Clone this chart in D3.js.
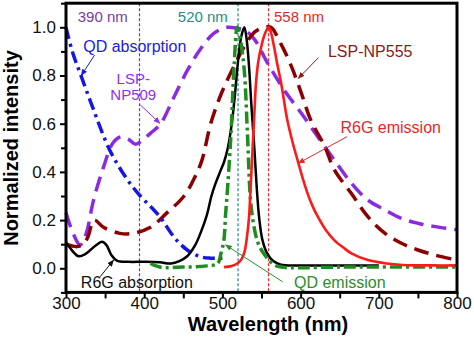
<!DOCTYPE html>
<html>
<head>
<meta charset="utf-8">
<script src="https://cdn.jsdelivr.net/npm/d3@7"></script>
<style>
  body { margin: 0; background: #fff; }
  svg { display: block; font-family: "Liberation Sans", Arial, sans-serif; }
</style>
</head>
<body>
<svg id="chart" width="474" height="339"></svg>
<script>
// data: [wavelength nm, normalized intensity]
const lspNP509 = [[300,0.23],[309,0.146],[318,0.097],[326,0.146],[335,0.28],[348,0.42],[360,0.52],[370,0.545],[380,0.535],[389,0.515],[397,0.53],[408,0.56],[421,0.60],[438,0.71],[455,0.82],[472,0.91],[489,0.975],[506,1.0],[520,0.995],[528,0.99],[541,0.95],[558,0.85],[579,0.74],[601,0.643],[622,0.546],[643,0.45],[665,0.353],[686,0.283],[708,0.242],[729,0.207],[750,0.187],[772,0.173],[800,0.16]];
const lspNP555 = [[300,0.10],[314,0.09],[322,0.10],[328,0.13],[336,0.20],[348,0.17],[369,0.145],[386,0.145],[408,0.17],[429,0.23],[451,0.30],[465,0.38],[474,0.45],[485,0.6],[498,0.72],[515,0.84],[528,0.92],[541,0.98],[554,1.0],[562,1.0],[575,0.93],[588,0.84],[601,0.726],[613,0.615],[631,0.505],[643,0.41],[665,0.31],[686,0.214],[708,0.145],[729,0.104],[750,0.076],[772,0.055],[800,0.034]];
const qdAbs = [[300,1.0],[308,0.9],[318,0.81],[335,0.66],[356,0.49],[378,0.37],[395,0.30],[410,0.25],[421,0.21],[438,0.13],[455,0.076],[472,0.048],[485,0.042],[500,0.042]];
const r6gAbs = [[300,0.11],[305,0.085],[316,0.05],[325,0.06],[338,0.095],[346,0.11],[352,0.095],[358,0.055],[365,0.032],[380,0.027],[400,0.027],[420,0.025],[434,0.02],[445,0.03],[455,0.05],[465,0.095],[472,0.146],[480,0.22],[486,0.3],[491,0.35],[497,0.4],[502,0.44],[507,0.5],[512,0.6],[516,0.72],[520,0.86],[524,0.96],[528,1.0],[531,0.95],[534,0.84],[537,0.68],[541,0.49],[544,0.33],[547,0.21],[551,0.12],[557,0.063],[565,0.03],[575,0.015],[600,0.012],[650,0.012],[700,0.012]];
const qdEm = [[408,0.02],[420,0.005],[450,0.005],[480,0.01],[494,0.02],[498,0.06],[502,0.12],[504,0.22],[507,0.35],[511,0.56],[515,0.84],[519,1.0],[523,0.95],[528,0.82],[532,0.56],[536,0.28],[540,0.18],[545,0.11],[551,0.07],[558,0.04],[566,0.015],[575,0.005],[650,0.005],[800,0.005]];
const r6gEm = [[502,0.005],[512,0.01],[519,0.02],[524,0.035],[528,0.065],[531,0.12],[534,0.21],[536,0.33],[538.5,0.49],[541,0.65],[543,0.77],[546,0.86],[549,0.91],[554,0.97],[559,1.0],[562,0.98],[566,0.92],[570,0.85],[575,0.77],[583,0.615],[590,0.52],[596,0.45],[603,0.37],[609,0.31],[615,0.26],[622,0.214],[632,0.16],[643,0.117],[655,0.085],[665,0.062],[686,0.034],[710,0.02],[730,0.014],[770,0.012],[800,0.012]];

const xTicks = [300, 400, 500, 600, 700, 800];
const xMinor = [350, 450, 550, 650, 750];
const yTicks = [0, 0.2, 0.4, 0.6, 0.8, 1.0];
const yMinor = [-0.1, 0.1, 0.3, 0.5, 0.7, 0.9, 1.1];

// marker wavelengths, their labels and where the label sits (nm)
const markers = [
  { nm: 394, label: "390 nm", color: "#7a3aa8", anchor: "start", tx: 315 },
  { nm: 520, label: "520 nm", color: "#1f8c8c", anchor: "end", tx: 507 },
  { nm: 559, label: "558 nm", color: "#e8262a", anchor: "start", tx: 566 }
];

// curve annotations: text position + arrow (data units)
const notes = [
  { lines: ["QD absorption"], x: 322, y: 0.897, anchor: "start", color: "#1b1be6", from: [336.6, 0.885], to: [319.5, 0.80] },
  { lines: ["LSP-", "NP509"], x: 386, y: 0.765, anchor: "middle", color: "#9130e8", from: [395, 0.678], to: [420, 0.602] },
  { lines: ["LSP-NP555"], x: 635, y: 0.877, anchor: "start", color: "#8b1a1a", from: [622.8, 0.874], to: [597, 0.788] },
  { lines: ["R6G emission"], x: 651, y: 0.561, anchor: "start", color: "#e8262a", from: [659.3, 0.546], to: [597.1, 0.436] },
  { lines: ["R6G absorption"], x: 319, y: -0.082, anchor: "start", color: "#111", from: [343.7, -0.035], to: [360.8, 0.034] },
  { lines: ["QD emission"], x: 591.6, y: -0.082, anchor: "start", color: "#2e8b2e", from: [577, -0.056], to: [504, 0.097] }
];

const svg = d3.select("#chart");
const x = d3.scaleLinear().domain([300, 800]).range([66, 457]);
const y = d3.scaleLinear().domain([-0.1, 1.1]).range([292.4, 3.2]);

const defs = svg.append("defs");
notes.forEach((n, i) => {
  defs.append("marker")
    .attr("id", "arr" + i)
    .attr("viewBox", "0 0 10 10")
    .attr("refX", 9).attr("refY", 5)
    .attr("markerWidth", 7).attr("markerHeight", 7)
    .attr("markerUnits", "userSpaceOnUse")
    .attr("orient", "auto")
    .append("path")
    .attr("d", "M0,1 L10,5 L0,9 Z")
    .attr("fill", n.color);
});

// vertical marker lines
svg.selectAll(".vline").data(markers).enter().append("line")
  .attr("x1", d => x(d.nm)).attr("x2", d => x(d.nm))
  .attr("y1", y(1.1)).attr("y2", y(-0.1))
  .attr("stroke", d => d.color)
  .attr("stroke-width", 1.2)
  .attr("stroke-dasharray", "3,2");

svg.selectAll(".vlab").data(markers).enter().append("text")
  .attr("x", d => x(d.tx)).attr("y", 22)
  .attr("text-anchor", d => d.anchor)
  .attr("font-size", 15)
  .attr("fill", d => d.color)
  .text(d => d.label);

const line = d3.line()
  .x(d => x(d[0]))
  .y(d => y(d[1]))
  .curve(d3.curveCatmullRom.alpha(0.5));

const series = [
  { data: lspNP509, color: "#8a2be2", width: 3.5, dash: "15,8" },
  { data: lspNP555, color: "#8b0000", width: 3.5, dash: "15,8" },
  { data: qdAbs, color: "#1515e6", width: 3.5, dash: "12,5,3,5" },
  { data: r6gAbs, color: "#000000", width: 2.5, dash: null },
  { data: qdEm, color: "#1f8c1f", width: 3.5, dash: "12,4,3,4" },
  { data: r6gEm, color: "#ff1a1a", width: 2.6, dash: null }
];

svg.selectAll(".curve").data(series).enter().append("path")
  .attr("d", d => line(d.data))
  .attr("fill", "none")
  .attr("stroke", d => d.color)
  .attr("stroke-width", d => d.width)
  .attr("stroke-dasharray", d => d.dash);

// annotations, one text per line
notes.forEach((n, i) => {
  n.lines.forEach((l, j) => {
    svg.append("text")
      .attr("x", x(n.x)).attr("y", y(n.y) + j * 16)
      .attr("text-anchor", n.anchor)
      .attr("font-size", n.lines.length > 1 ? 15 : 16)
      .attr("fill", n.color)
      .text(l);
  });
  svg.append("line")
    .attr("x1", x(n.from[0])).attr("y1", y(n.from[1]))
    .attr("x2", x(n.to[0])).attr("y2", y(n.to[1]))
    .attr("stroke", n.color)
    .attr("stroke-width", 1)
    .attr("marker-end", `url(#arr${i})`);
});

// axes
svg.append("g")
  .attr("transform", `translate(0,${y(-0.1)})`)
  .call(d3.axisBottom(x).tickValues(xTicks).tickSize(6).tickPadding(-1).tickFormat(d3.format("d")));
svg.append("g")
  .attr("transform", `translate(0,${y(-0.1)})`)
  .call(d3.axisBottom(x).tickValues(xMinor).tickSize(6).tickFormat(""));

svg.append("g")
  .attr("transform", `translate(${x(300)},0)`)
  .call(d3.axisLeft(y).tickValues(yTicks).tickSize(6).tickPadding(4).tickFormat(d3.format(".1f")));
svg.append("g")
  .attr("transform", `translate(${x(300)},0)`)
  .call(d3.axisLeft(y).tickValues(yMinor).tickSize(5).tickFormat(""));

svg.selectAll(".domain").remove();
svg.selectAll(".tick line").attr("stroke", "#000").attr("stroke-width", 2);
svg.selectAll(".tick text")
  .attr("font-family", "'Liberation Sans', Arial, sans-serif")
  .attr("font-size", 17)
  .attr("fill", "#111");

// frame
svg.append("rect")
  .attr("x", x(300)).attr("y", y(1.1))
  .attr("width", x(800) - x(300))
  .attr("height", y(-0.1) - y(1.1))
  .attr("fill", "none")
  .attr("stroke", "#000")
  .attr("stroke-width", 3);

// axis titles
svg.append("text")
  .attr("x", 268).attr("y", 331)
  .attr("text-anchor", "middle")
  .attr("font-size", 20).attr("font-weight", "bold")
  .text("Wavelength (nm)");

svg.append("text")
  .attr("transform", "translate(18,148) rotate(-90)")
  .attr("text-anchor", "middle")
  .attr("font-size", 20).attr("font-weight", "bold")
  .text("Normalized intensity");
</script>
</body>
</html>
